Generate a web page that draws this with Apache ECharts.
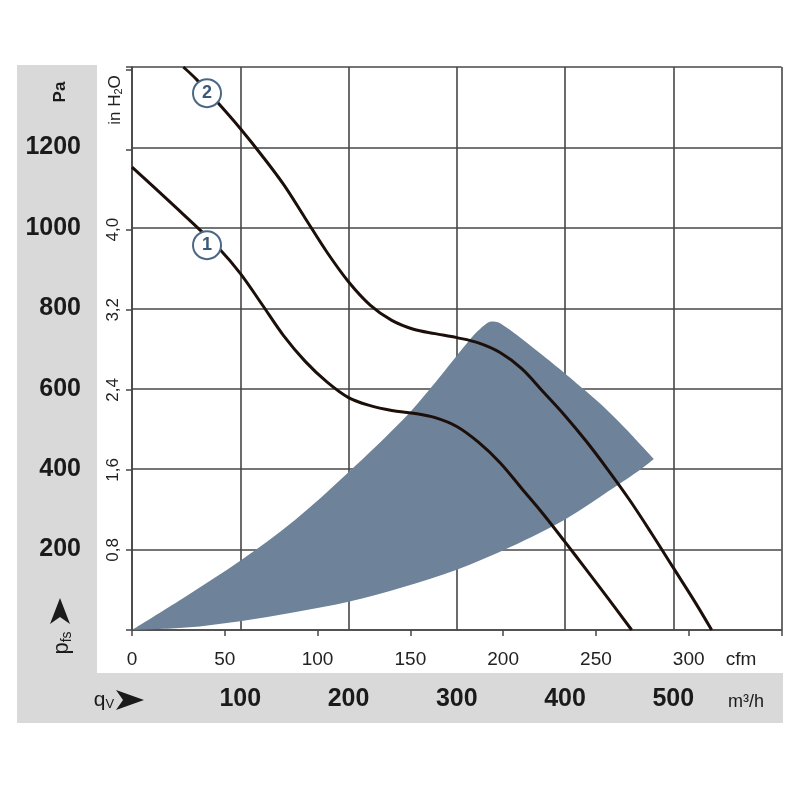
<!DOCTYPE html>
<html>
<head>
<meta charset="utf-8">
<script src="https://cdn.jsdelivr.net/npm/echarts@6/dist/echarts.min.js"></script>
<style>
html,body{margin:0;padding:0;background:#fff;}
#c{width:800px;height:800px;}
</style>
</head>
<body>
<div id="c"></div>
<script>
// ---- data (x: m³/h, y: Pa) ----
const flowTicksM3h = [100, 200, 300, 400, 500];
const flowTicksCfm = [0, 50, 100, 150, 200, 250, 300];
const pressureTicksPa = [200, 400, 600, 800, 1000, 1200];
const pressureTicksInH2O = [0.8, 1.6, 2.4, 3.2, 4.0];

const curve1 = [[0,1151],[20,1102],[40,1052],[60,1002],[80,950],[100,887],[120,810],[140,732],[160,668],[180,617],[200,578],[220,558],[240,546],[260,539],[280,528],[300,506],[320,467],[340,416],[360,352],[380,288],[400,219],[420,149],[440,78],[461.6,0]];
const curve2 = [[47.4,1400],[60,1368],[80,1309],[100,1247],[120,1180],[140,1108],[160,1024],[180,940],[200,866],[220,808],[240,770],[260,748],[280,737],[300,727],[320,714],[340,690],[360,650],[380,592],[400,533],[420,468],[440,397],[460,322],[480,240],[500,155],[520,70],[535.5,0]];
// operating area outline: upper edge incl. rounded top and right arc, then lower edge
const areaUpper = [[0,0],[50,84],[100,172],[150,272],[200,392],[250,522],[280,615],[300,682],[315,731],[322,750],[327,761],[332,767],[338,765],[346,752],[360,724],[377,688],[400,638],[417,599],[438.5,548],[457,498],[469,463],[482,425]];
const areaLower = [[482,425],[470,400],[440,345],[400,275],[350,207],[300,150],[250,106],[200,70],[150,44],[100,22],[50,6],[0,0]];
const curveMarkers = [[69.3,957,'1'],[69.3,1335,'2']];

const PA_PER_INH2O = 248.84;

const grey = '#d9d9d9';
const gridColor = '#474747';
const txt = '#1a1a1a';
const FONT = 'Liberation Sans, Arial, sans-serif';

// Catmull-Rom spline through pixel points -> cubic bezier path commands
function splineCmds(pts){
  let s = '';
  for (let i = 0; i < pts.length - 1; i++){
    const p0 = pts[Math.max(i-1,0)], p1 = pts[i], p2 = pts[i+1], p3 = pts[Math.min(i+2, pts.length-1)];
    const c1 = [p1[0] + (p2[0]-p0[0])/6, p1[1] + (p2[1]-p0[1])/6];
    const c2 = [p2[0] - (p3[0]-p1[0])/6, p2[1] - (p3[1]-p1[1])/6];
    s += ' C' + c1[0].toFixed(2) + ' ' + c1[1].toFixed(2) + ' ' + c2[0].toFixed(2) + ' ' + c2[1].toFixed(2) + ' ' + p2[0].toFixed(2) + ' ' + p2[1].toFixed(2);
  }
  return s;
}

const chart = echarts.init(document.getElementById('c'), null, {renderer:'canvas'});
chart.setOption({
  animation:false,
  backgroundColor:'#ffffff',
  grid:{left:132, right:18.5, top:67, bottom:170, containLabel:false},
  xAxis:[
    {type:'value', min:0, max:600, interval:100, position:'bottom',
     axisLine:{show:true, onZero:false, lineStyle:{color:gridColor, width:1.6}},
     axisTick:{show:false},
     axisLabel:{margin:57, fontSize:25, fontWeight:'bold', color:txt, fontFamily:FONT,
       formatter:v=> flowTicksM3h.includes(v) ? String(v) : ''},
     splitLine:{show:true, lineStyle:{color:gridColor, width:1.6}}},
    {type:'value', min:0, max:350, interval:50, position:'bottom',
     axisLine:{show:false, onZero:false},
     axisTick:{show:true, length:6, lineStyle:{color:gridColor, width:1.5}},
     axisLabel:{margin:20, fontSize:19, color:'#222', fontFamily:FONT,
       formatter:v=> flowTicksCfm.includes(v) ? String(v) : ''},
     splitLine:{show:false}}
  ],
  yAxis:[
    {type:'value', min:0, max:1400, interval:200, position:'left',
     axisLine:{show:false}, axisTick:{show:false},
     axisLabel:{margin:51, fontSize:25, fontWeight:'bold', color:txt, fontFamily:FONT,
       formatter:v=> pressureTicksPa.includes(v) ? String(v) : ''},
     splitLine:{show:true, lineStyle:{color:gridColor, width:1.6}}},
    {type:'value', min:0, max:1400/PA_PER_INH2O, interval:0.8, position:'left',
     axisLine:{show:true, onZero:false, lineStyle:{color:gridColor, width:1.6}},
     axisTick:{show:true, length:6, lineStyle:{color:gridColor, width:1.5}},
     axisLabel:{rotate:90, margin:10, fontSize:17, color:'#222', fontFamily:FONT,
       formatter:v=>{ const r = Math.round(v*10)/10; return pressureTicksInH2O.includes(r) && Math.abs(v-r)<1e-6 ? r.toFixed(1).replace('.',',') : ''; }},
     splitLine:{show:false}}
  ],
  series:[
    {type:'custom', xAxisIndex:0, yAxisIndex:0, z:1, silent:true,
     data:[[0,0]],
     renderItem:(params, api)=>{
       const up = areaUpper.map(p=>api.coord(p));
       const lo = areaLower.map(p=>api.coord(p));
       const d = 'M' + up[0][0].toFixed(2) + ' ' + up[0][1].toFixed(2) + splineCmds(up) + splineCmds(lo) + ' Z';
       return {type:'path', shape:{pathData:d}, style:{fill:'#6e8299'}};
     }},
    {type:'line', xAxisIndex:0, yAxisIndex:0, data:curve1, smooth:0.35, showSymbol:false, z:3,
     lineStyle:{color:'#1c0f0a', width:3}},
    {type:'line', xAxisIndex:0, yAxisIndex:0, data:curve2, smooth:0.35, showSymbol:false, z:3,
     lineStyle:{color:'#1c0f0a', width:3}},
    {type:'scatter', xAxisIndex:0, yAxisIndex:0, z:5,
     data:curveMarkers.map(m=>({value:[m[0],m[1]], name:m[2]})),
     symbol:'circle', symbolSize:28,
     itemStyle:{color:'#ffffff', borderColor:'#4a6786', borderWidth:2, opacity:1},
     label:{show:true, position:'inside', formatter:p=>p.name, color:'#3b5878', fontSize:18, fontWeight:'bold', fontFamily:FONT}}
  ],
  graphic:[
    {type:'polygon', z:-100, silent:true,
     shape:{points:[[17,65],[97,65],[97,673],[783,673],[783,723],[17,723]]},
     style:{fill:grey}},
    {type:'text', x:60, y:92, rotation:Math.PI/2, z:100,
     style:{text:'Pa', fontSize:17, fontWeight:'bold', fill:txt, align:'center', verticalAlign:'middle', fontFamily:FONT}},
    {type:'text', x:115, y:100, rotation:Math.PI/2, z:100,
     style:{text:'in H{s|2}O', fontSize:17, fill:'#222', align:'center', verticalAlign:'middle', fontFamily:FONT,
       rich:{s:{fontSize:11, verticalAlign:'bottom', padding:[8,0,0,0], fill:'#222'}}}},
    {type:'polygon', z:100, shape:{points:[[60,598],[70,624],[60,617],[50,624]]}, style:{fill:txt}},
    {type:'text', x:62, y:643, rotation:Math.PI/2, z:100,
     style:{text:'p{s|fs}', fontSize:22, fill:txt, align:'center', verticalAlign:'middle', fontFamily:FONT,
       rich:{s:{fontSize:14, padding:[10,0,0,0], fill:txt}}}},
    {type:'text', x:104, y:700, z:100,
     style:{text:'q{s|V}', fontSize:21, fill:txt, align:'center', verticalAlign:'middle', fontFamily:FONT,
       rich:{s:{fontSize:13, padding:[8,0,0,0], fill:txt}}}},
    {type:'polygon', z:100, shape:{points:[[144,700],[116,690],[123,700],[116,710]]}, style:{fill:txt}},
    {type:'text', x:741, y:660, z:100,
     style:{text:'cfm', fontSize:19, fill:'#222', align:'center', verticalAlign:'middle', fontFamily:FONT}},
    {type:'text', x:746, y:702, z:100,
     style:{text:'m³/h', fontSize:18, fill:txt, align:'center', verticalAlign:'middle', fontFamily:FONT}}
  ]
});
</script>
</body>
</html>
